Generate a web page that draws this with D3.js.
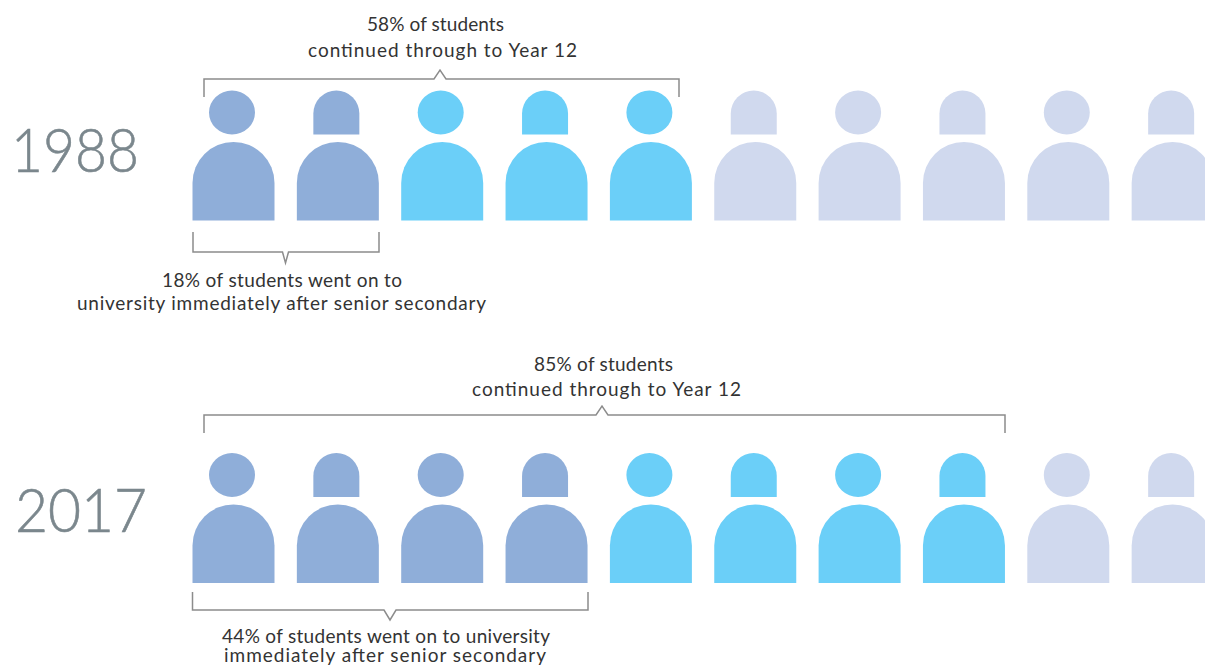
<!DOCTYPE html>
<html>
<head>
<meta charset="utf-8">
<script src="https://cdn.jsdelivr.net/npm/d3@7"></script>
<style>
html, body { margin: 0; padding: 0; background: #fff; overflow: hidden; }
text { font-family: Lato, "Open Sans", sans-serif; }
</style>
</head>
<body>
<div id="chart"></div>
<script>
// data
const years = ["1988", "2017"];
const groups = ["university", "year12", "other"];
const counts1988 = [2, 3, 5];   // people out of ten
const counts2017 = [4, 4, 2];
const topLabels1988 = ["58% of students", "continued through to Year 12"];
const topLabels2017 = ["85% of students", "continued through to Year 12"];
const bottomLabels1988 = ["18% of students went on to", "university immediately after senior secondary"];
const bottomLabels2017 = ["44% of students went on to university", "immediately after senior secondary"];

const width = 1205, height = 666;

const svg = d3.select("#chart").append("svg")
    .attr("width", width)
    .attr("height", height)
    .style("display", "block");

const color = d3.scaleOrdinal().domain(groups).range(["#8faed9", "#6bcff8", "#d0d9ee"]);

// one person slot per index, body width is 82
const x = d3.scaleLinear().domain([0, 10]).range([192.5, 1236]);
const bodyW = 82, headR = 23;

// bracket = x0, x1, bar y, end y, pointer x, pointer y, pointer half width
const rows = [
    { year: years[0], counts: counts1988, top: 90.5, yearX: 11, yearY: 172, yearW: 128,
      topLabels: topLabels1988, topTextX: [435.5, 442.5], topTextY: [30.5, 56.5], topW: [137, 269], topBr: [204, 679, 79, 97, 440, 70, 6],
      bottomLabels: bottomLabels1988, bottomTextX: [282, 281.5], bottomTextY: [287, 310], bottomW: [240, 409], bottomBr: [193, 379, 252, 232, 285.5, 263, 3] },
    { year: years[1], counts: counts2017, top: 453, yearX: 15, yearY: 532, yearW: 132,
      topLabels: topLabels2017, topTextX: [603.5, 606.5], topTextY: [371, 396], topW: [139, 269], topBr: [204, 1005, 415, 433, 602, 406, 6],
      bottomLabels: bottomLabels2017, bottomTextX: [386, 385], bottomTextY: [643, 661.5], bottomW: [328, 322], bottomBr: [192.5, 588, 610, 592, 390, 620, 6] }
];

// body: dome on top of a short straight part
function bodyPath(x0, y0) {
    const r = bodyW / 2, h = 78.5;
    return "M" + x0 + "," + (y0 + h) + "V" + (y0 + r) +
        "A" + r + "," + r + " 0 0 1 " + (x0 + bodyW) + "," + (y0 + r) +
        "V" + (y0 + h) + "Z";
}

function domeHead(cx, y0) {
    const hh = 44;
    return "M" + (cx - headR) + "," + (y0 + hh) + "V" + (y0 + headR) +
        "A" + headR + "," + headR + " 0 0 1 " + (cx + headR) + "," + (y0 + headR) +
        "V" + (y0 + hh) + "Z";
}

// bracket with the small pointer at px,py
function bracket(b) {
    const [x0, x1, yBar, yEnd, px, py, w] = b;
    return d3.line()([
        [x0, yEnd], [x0, yBar], [px - w, yBar], [px, py], [px + w, yBar], [x1, yBar], [x1, yEnd]
    ]);
}

rows.forEach(function(row) {
    const people = [];
    row.counts.forEach(function(n, g) {
        d3.range(n).forEach(function() { people.push(groups[g]); });
    });

    const g = svg.append("g");

    g.selectAll(".body").data(people).enter().append("path")
        .attr("class", "body")
        .attr("d", function(d, i) { return bodyPath(x(i), row.top + 51.5); })
        .attr("fill", function(d) { return color(d); });

    // heads alternate between circle and dome
    g.selectAll(".head").data(people).enter().append("path")
        .attr("class", "head")
        .attr("d", function(d, i) {
            const cx = x(i) + 39.5;
            if (i % 2 === 1) return domeHead(cx, row.top);
            const cy = row.top + 22;
            return "M" + (cx - headR) + "," + cy + "A" + headR + ",22 0 1 1 " + (cx + headR) + "," + cy +
                "A" + headR + ",22 0 1 1 " + (cx - headR) + "," + cy + "Z";
        })
        .attr("fill", function(d) { return color(d); });

    g.append("text")
        .attr("x", row.yearX)
        .attr("y", row.yearY)
        .attr("font-size", 62)
        .attr("font-weight", 300)
        .attr("fill", "#7b878d")
        .attr("stroke", "#7b878d")
        .attr("stroke-width", 0.6)
        .attr("textLength", row.yearW)
        .attr("lengthAdjust", "spacingAndGlyphs")
        .text(row.year);

    [row.topBr, row.bottomBr].forEach(function(b) {
        g.append("path")
            .attr("d", bracket(b))
            .attr("fill", "none")
            .attr("stroke", "#8c8c8c")
            .attr("stroke-width", 1.5);
    });

    row.topLabels.forEach(function(t, i) {
        g.append("text").attr("x", row.topTextX[i]).attr("y", row.topTextY[i])
            .attr("text-anchor", "middle").attr("font-size", 19).attr("fill", "#333")
            .attr("textLength", row.topW[i]).text(t);
    });
    row.bottomLabels.forEach(function(t, i) {
        g.append("text").attr("x", row.bottomTextX[i]).attr("y", row.bottomTextY[i])
            .attr("text-anchor", "middle").attr("font-size", 19).attr("fill", "#333")
            .attr("textLength", row.bottomW[i]).text(t);
    });
});
</script>
</body>
</html>
